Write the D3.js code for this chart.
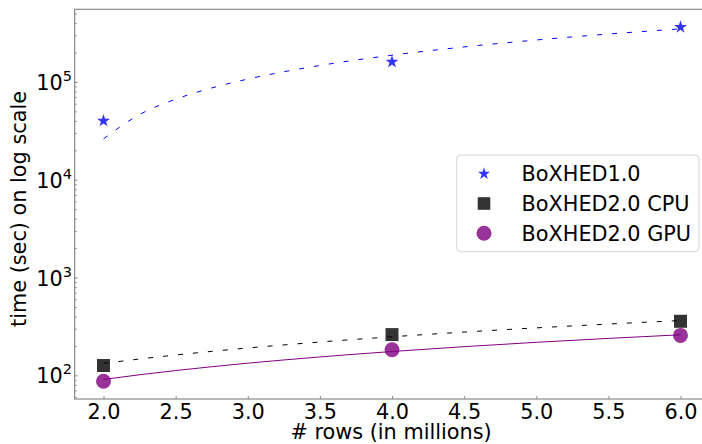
<!DOCTYPE html>
<html><head><meta charset="utf-8">
<script src="https://cdn.jsdelivr.net/npm/d3@7"></script>
<style>body{margin:0;background:#fff}svg{display:block}text{font-family:"DejaVu Sans",sans-serif}</style>
</head><body><svg id="c" width="702" height="444"></svg>
<script>
// ---- data ----
const rows = [2, 4, 6];
const seriesNames = ["BoXHED1.0", "BoXHED2.0 CPU", "BoXHED2.0 GPU"];
const boxhed1 = [40000, 160000, 363000];
const cpu = [126, 261, 357];
const gpu = [87, 183, 256];
// fitted trend lines
const fitX = [2, 2.25, 2.5, 2.75, 3, 3.5, 4, 4.5, 5, 5.5, 6];
const fitBoxhed1 = [26200, 46400, 66600, 86800, 107000, 147300, 187700, 228000, 268400, 308800, 349000];
const fitCpu = [132.5, 146.9, 161.4, 175.8, 190.3, 219.1, 248, 276.9, 305.8, 334.6, 363.5];
const fitGpu = [90.8, 101.4, 111.9, 122.5, 133.1, 154.2, 175.3, 196.4, 217.6, 238.7, 259.8];
const xTicks = [2.0, 2.5, 3.0, 3.5, 4.0, 4.5, 5.0, 5.5, 6.0];
const yTickExp = [2, 3, 4, 5];
const xLabel = "# rows (in millions)";
const yLabel = "time (sec) on log scale";

// ---- layout ----
const L = 74.65, R = 709.35, T = 9.3, B = 399;
const FS = 20.8;
const svg = d3.select("#c");
svg.append("rect").attr("width", 702).attr("height", 444).attr("fill", "#fff");
const x = d3.scaleLinear().domain([1.8, 6.2]).range([L, R]);
const y = d3.scaleLog().domain([57.3, 5.53e5]).range([B, T]);
const spine = "#8a8a8a";

// minor y ticks
const minor = [];
for (let e = 1; e <= 5; e++) for (let m = 2; m <= 9; m++) {
  const v = m * Math.pow(10, e);
  if (v > y.domain()[0] && v < y.domain()[1]) minor.push(v);
}
const gyMinor = svg.append("g").attr("transform", `translate(${L},0)`)
  .call(d3.axisLeft(y).tickValues(minor).tickSize(-2).tickFormat(""));
gyMinor.select(".domain").remove();
gyMinor.selectAll("line").attr("stroke", spine);

// major y ticks
const gy = svg.append("g").attr("transform", `translate(${L},0)`)
  .call(d3.axisLeft(y).tickValues(yTickExp.map(e => Math.pow(10, e))).tickSize(-3).tickFormat(""));
gy.select(".domain").remove();
gy.selectAll("line").attr("stroke", spine);
yTickExp.forEach(e => {
  const t = svg.append("text").attr("x", 72).attr("y", y(Math.pow(10, e)) + 8)
    .attr("text-anchor", "end").attr("font-size", FS).attr("fill", "#000");
  t.append("tspan").text("10");
  t.append("tspan").attr("dy", -9).attr("font-size", 14.5).text(String(e));
});

// x ticks
const gx = svg.append("g").attr("transform", `translate(0,${B})`)
  .call(d3.axisBottom(x).tickValues(xTicks).tickSize(-3).tickFormat(d3.format(".1f")));
gx.select(".domain").remove();
gx.selectAll("line").attr("stroke", spine);
gx.selectAll("text").attr("font-size", FS).attr("fill", "#000")
  .attr("font-family", '"DejaVu Sans",sans-serif').attr("dy", null).attr("y", 19.5);

// spines
svg.append("rect").attr("x", L).attr("y", T).attr("width", R - L).attr("height", B - T)
  .attr("fill", "none").attr("stroke", spine).attr("stroke-width", 1.2);

// axis labels
svg.append("text").attr("x", (L + R) / 2 - 1).attr("y", 438.5).attr("text-anchor", "middle")
  .attr("font-size", FS).text(xLabel);
svg.append("text").attr("transform", `translate(26,209) rotate(-90)`)
  .attr("text-anchor", "middle").attr("font-size", FS).text(yLabel);

// fit lines
const line = d3.line().x(d => x(d[0])).y(d => y(d[1])).curve(d3.curveMonotoneX);
const fits = [
  { v: fitBoxhed1, c: "blue", dash: "5,10" },
  { v: fitCpu, c: "black", dash: "5,10" },
  { v: fitGpu, c: "purple", dash: null }
];
fits.forEach(f => {
  svg.append("path").datum(fitX.map((xv, i) => [xv, f.v[i]]))
    .attr("d", line).attr("fill", "none").attr("stroke", f.c).attr("stroke-width", 1)
    .attr("stroke-dasharray", f.dash);
});

// markers
const star = d3.symbol().type(d3.symbolStar).size(52);
const starL = d3.symbol().type(d3.symbolStar).size(46);
svg.append("g").selectAll("path").data(rows.map((r, i) => [r, boxhed1[i]])).join("path")
  .attr("d", star).attr("transform", d => `translate(${x(d[0])},${y(d[1])})`)
  .attr("fill", "blue").attr("fill-opacity", 0.8);
svg.append("g").selectAll("rect").data(rows.map((r, i) => [r, cpu[i]])).join("rect")
  .attr("x", d => x(d[0]) - 6.5).attr("y", d => y(d[1]) - 6.5).attr("width", 13).attr("height", 13)
  .attr("fill", "black").attr("fill-opacity", 0.8);
svg.append("g").selectAll("circle").data(rows.map((r, i) => [r, gpu[i]])).join("circle")
  .attr("cx", d => x(d[0])).attr("cy", d => y(d[1])).attr("r", 7.5)
  .attr("fill", "purple").attr("fill-opacity", 0.8);

// legend
const lg = svg.append("g");
lg.append("rect").attr("x", 456.7).attr("y", 155).attr("width", 242.3).attr("height", 96.7)
  .attr("rx", 4).attr("fill", "#fff").attr("fill-opacity", 0.8).attr("stroke", "#d4d4d4");
const rowsY = [173.7, 203.5, 233.3];
lg.append("path").attr("d", starL).attr("transform", `translate(484,${rowsY[0]})`)
  .attr("fill", "blue").attr("fill-opacity", 0.8);
lg.append("rect").attr("x", 484 - 6.3).attr("y", rowsY[1] - 6.3).attr("width", 12.6).attr("height", 12.6)
  .attr("fill", "black").attr("fill-opacity", 0.8);
lg.append("circle").attr("cx", 484).attr("cy", rowsY[2]).attr("r", 7.5)
  .attr("fill", "purple").attr("fill-opacity", 0.8);
seriesNames.forEach((n, i) => {
  lg.append("text").attr("x", 521.5).attr("y", rowsY[i] + 7.5).attr("font-size", FS).text(n);
});
</script></body></html>
